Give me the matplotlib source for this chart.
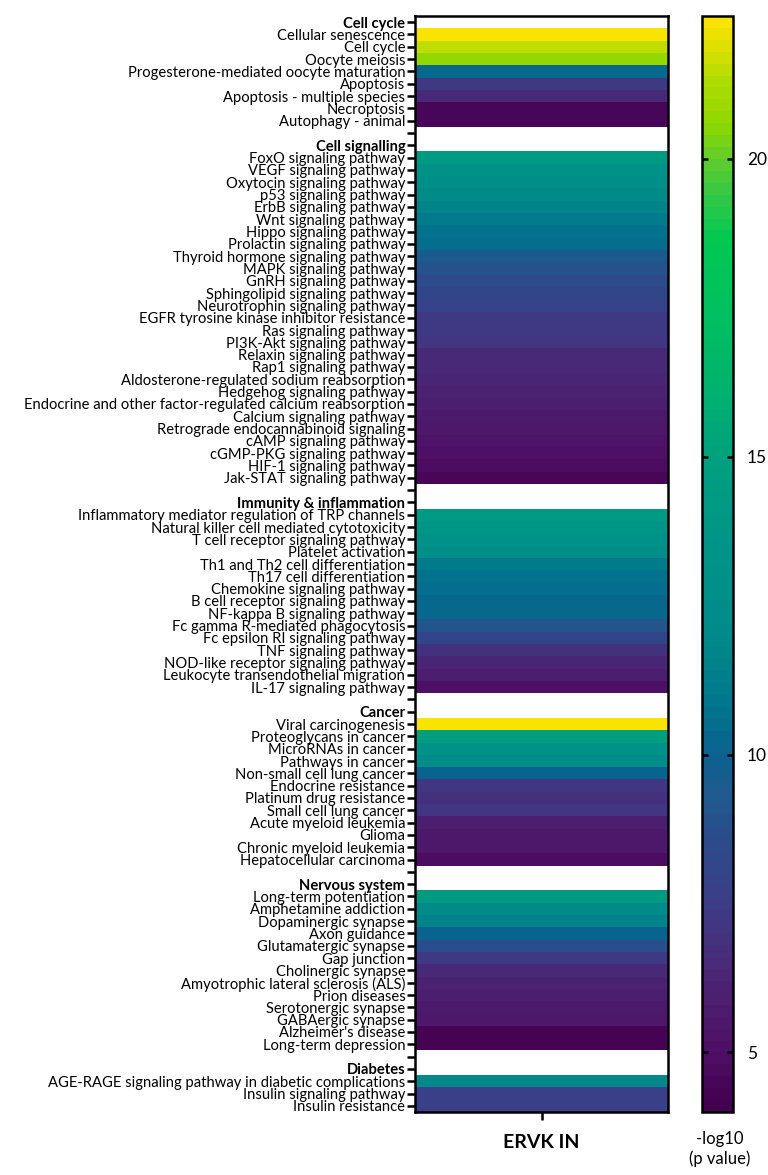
import numpy as np
import matplotlib
matplotlib.use("Agg")
import matplotlib.pyplot as plt
from matplotlib.colors import LinearSegmentedColormap, Normalize

plt.rcParams['font.family'] = ['Lato', 'DejaVu Sans']

# pathway groups and -log10(p) values
groups = ["Cell cycle", "Cell signalling", "Immunity & inflammation",
          "Cancer", "Nervous system", "Diabetes"]

cell_cycle_terms = ["Cellular senescence", "Cell cycle", "Oocyte meiosis",
                    "Progesterone-mediated oocyte maturation", "Apoptosis",
                    "Apoptosis - multiple species", "Necroptosis", "Autophagy - animal"]
cell_cycle_vals = [22.2, 21.4, 20.6, 10.3, 7.3, 6.6, 4.4, 4.4]

signalling_terms = ["FoxO signaling pathway", "VEGF signaling pathway",
                    "Oxytocin signaling pathway", "p53 signaling pathway",
                    "ErbB signaling pathway", "Wnt signaling pathway",
                    "Hippo signaling pathway", "Prolactin signaling pathway",
                    "Thyroid hormone signaling pathway", "MAPK signaling pathway",
                    "GnRH signaling pathway", "Sphingolipid signaling pathway",
                    "Neurotrophin signaling pathway",
                    "EGFR tyrosine kinase inhibitor resistance",
                    "Ras signaling pathway", "PI3K-Akt signaling pathway",
                    "Relaxin signaling pathway", "Rap1 signaling pathway",
                    "Aldosterone-regulated sodium reabsorption",
                    "Hedgehog signaling pathway",
                    "Endocrine and other factor-regulated calcium reabsorption",
                    "Calcium signaling pathway", "Retrograde endocannabinoid signaling",
                    "cAMP signaling pathway", "cGMP-PKG signaling pathway",
                    "HIF-1 signaling pathway", "Jak-STAT signaling pathway"]
signalling_vals = [14.2, 13.3, 12.8, 12.3, 11.6, 11.0, 10.6, 10.4, 9.4, 8.8,
                   8.4, 8.1, 7.9, 7.3, 7.2, 7.1, 6.6, 6.4, 6.3, 6.1,
                   5.9, 5.7, 5.5, 5.3, 5.1, 4.9, 4.4]

immunity_terms = ["Inflammatory mediator regulation of TRP channels",
                  "Natural killer cell mediated cytotoxicity",
                  "T cell receptor signaling pathway", "Platelet activation",
                  "Th1 and Th2 cell differentiation", "Th17 cell differentiation",
                  "Chemokine signaling pathway", "B cell receptor signaling pathway",
                  "NF-kappa B signaling pathway", "Fc gamma R-mediated phagocytosis",
                  "Fc epsilon RI signaling pathway", "TNF signaling pathway",
                  "NOD-like receptor signaling pathway",
                  "Leukocyte transendothelial migration", "IL-17 signaling pathway"]
immunity_vals = [14.3, 13.6, 13.0, 12.6, 11.0, 10.7, 10.5, 10.3, 10.2, 9.0,
                 8.0, 6.8, 6.3, 5.8, 5.1]

cancer_terms = ["Viral carcinogenesis", "Proteoglycans in cancer",
                "MicroRNAs in cancer", "Pathways in cancer",
                "Non-small cell lung cancer", "Endocrine resistance",
                "Platinum drug resistance", "Small cell lung cancer",
                "Acute myeloid leukemia", "Glioma", "Chronic myeloid leukemia",
                "Hepatocellular carcinoma"]
cancer_vals = [22.4, 14.6, 13.0, 12.4, 10.0, 7.0, 6.9, 7.0, 5.8, 5.6, 5.5, 4.9]

nervous_terms = ["Long-term potentiation", "Amphetamine addiction",
                 "Dopaminergic synapse", "Axon guidance", "Glutamatergic synapse",
                 "Gap junction", "Cholinergic synapse",
                 "Amyotrophic lateral sclerosis (ALS)", "Prion diseases",
                 "Serotonergic synapse", "GABAergic synapse", "Alzheimer's disease",
                 "Long-term depression"]
nervous_vals = [14.2, 12.0, 11.6, 10.0, 8.7, 7.2, 6.4, 6.0, 5.8, 5.7, 5.5, 4.2, 4.2]

diabetes_terms = ["AGE-RAGE signaling pathway in diabetic complications",
                  "Insulin signaling pathway", "Insulin resistance"]
diabetes_vals = [11.8, 7.7, 7.7]

all_terms = [cell_cycle_terms, signalling_terms, immunity_terms,
             cancer_terms, nervous_terms, diabetes_terms]
all_vals = [cell_cycle_vals, signalling_vals, immunity_vals,
            cancer_vals, nervous_vals, diabetes_vals]

# build the row list: header, terms, blank spacer
labels, values, bold = [], [], []
for i, g in enumerate(groups):
    labels.append(g); values.append(np.nan); bold.append(True)
    labels += all_terms[i]; values += all_vals[i]; bold += [False] * len(all_terms[i])
    if i < len(groups) - 1:
        labels.append(""); values.append(np.nan); bold.append(False)

values = np.array(values)

vmin, vmax = 4.0, 22.4
anchors = [(4.0, "#440050"), (5.0, "#4e1066"), (5.9, "#4c2070"), (6.75, "#46307e"),
           (7.6, "#3a4088"), (8.4, "#2e4a8a"), (9.3, "#1f5a8e"), (10.0, "#0a6290"),
           (11.0, "#007a8c"), (12.0, "#008a8a"), (13.5, "#009488"), (15.0, "#00a07e"),
           (16.0, "#00b070"), (17.5, "#00c060"), (18.7, "#00c850"), (19.4, "#30c848"),
           (20.0, "#5ccc30"), (20.7, "#90d800"), (21.4, "#b0dc00"), (22.0, "#e0e000"),
           (22.4, "#f8e400")]
cmap = LinearSegmentedColormap.from_list(
    "prism_viridis", [((v - vmin) / (vmax - vmin), c) for v, c in anchors], N=92)
cmap.set_bad("white")

fig = plt.figure(figsize=(7.68, 11.75), dpi=100)
top = 1 - 16 / 1175
bot = 1 - 1112 / 1175
ax = fig.add_axes([415 / 768, bot, 253 / 768, top - bot])

im = ax.imshow(np.ma.masked_invalid(values)[:, None], aspect="auto", cmap=cmap,
               norm=Normalize(vmin, vmax), interpolation="nearest")

ax.set_yticks(np.arange(len(labels)))
ax.set_yticklabels(labels, fontsize=10.6)
for t, b in zip(ax.get_yticklabels(), bold):
    if b:
        t.set_fontweight("bold")
ax.set_xticks([0])
ax.set_xticklabels(["ERVK IN"], fontsize=14, fontweight="bold")
ax.tick_params(axis="y", length=6, width=1.8, pad=1)
ax.tick_params(axis="x", length=6, width=1.8, pad=10)
for s in ax.spines.values():
    s.set_linewidth(1.8)

cax = fig.add_axes([702 / 768, bot, 31 / 768, top - bot])
cb = fig.colorbar(im, cax=cax, ticks=[5, 10, 15, 20])
cb.outline.set_linewidth(1.8)
cax.tick_params(direction="in", left=True, right=True, length=4, width=1.8,
                labelsize=12.5, pad=10)
fig.text(720 / 768, 1 - 1149 / 1175, "-log10\n(p value)", ha="center", va="center",
         fontsize=12, linespacing=1.3)

fig.savefig("out.png", dpi=100)
